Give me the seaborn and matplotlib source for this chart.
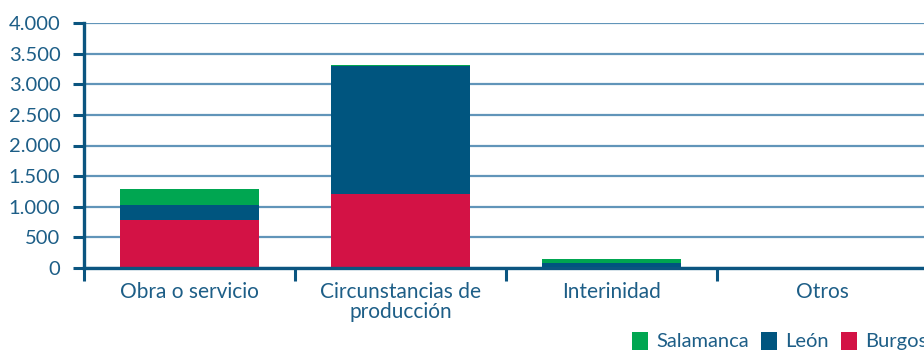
import matplotlib
matplotlib.use("Agg")
import matplotlib.pyplot as plt
from matplotlib.patches import Patch
from matplotlib.ticker import FuncFormatter, FixedLocator
import seaborn as sns
import pandas as pd
import numpy as np

# Contract types and counts per province
categories = ["Obra o servicio", "Circunstancias de\nproducción", "Interinidad", "Otros"]
burgos = [790, 1205, 10, 3]
leon = [240, 2085, 75, 5]
salamanca = [260, 30, 60, 4]

series_names = ["Salamanca", "León", "Burgos"]
colors = {"Salamanca": "#00A651", "León": "#00557F", "Burgos": "#D31245"}
axis_color = "#0B5580"
grid_color = "#6195B9"
text_color = "#1D5E87"

sns.set_theme(style="white")
plt.rcParams["font.family"] = ["Lato", "DejaVu Sans"]

df = pd.DataFrame({
    "categoria": categories,
    "Burgos": burgos,
    "León": leon,
    "Salamanca": salamanca,
})
# cumulative heights so each layer sits on the previous one
df["top_Burgos"] = df["Burgos"]
df["top_León"] = df["Burgos"] + df["León"]
df["top_Salamanca"] = df["Burgos"] + df["León"] + df["Salamanca"]

fig = plt.figure(figsize=(9.24, 3.52), dpi=100)
W, H = 924, 352
ax = fig.add_axes([84 / W, (H - 268) / H, 844 / W, 245 / H])

for name in series_names:
    sns.barplot(data=df, x="categoria", y=f"top_{name}", color=colors[name],
                width=0.66, saturation=1, ax=ax, zorder=3, linewidth=0)

ax.set_xlim(-0.5, 3.5)
ax.set_ylim(0, 4000)
ax.set_yticks(np.arange(0, 4001, 500))
ax.yaxis.set_major_formatter(FuncFormatter(lambda v, p: f"{int(v):,}".replace(",", ".")))
ax.set_xlabel("")
ax.set_ylabel("")

ax.grid(axis="y", color=grid_color, linewidth=1.6, zorder=0)
ax.set_axisbelow(True)
for s in ["top", "right"]:
    ax.spines[s].set_visible(False)
for s in ["left", "bottom"]:
    ax.spines[s].set_color(axis_color)
    ax.spines[s].set_linewidth(2.4)
    ax.spines[s].set_zorder(5)

ax.tick_params(axis="y", which="major", direction="out", length=8, width=2.2,
               color=axis_color, labelcolor=text_color, labelsize=14.5, pad=9, left=True)
ax.tick_params(axis="x", which="major", length=0, labelcolor=text_color,
               labelsize=15, pad=10)
ax.xaxis.set_minor_locator(FixedLocator([-0.5, 0.5, 1.5, 2.5, 3.5]))
ax.tick_params(axis="x", which="minor", direction="out", length=9, width=2.2,
               color=axis_color, bottom=True)
for lbl in ax.get_xticklabels():
    lbl.set_linespacing(1.0)

handles = [Patch(facecolor=colors[n], edgecolor="none", label=n) for n in series_names]
fig.legend(handles=handles, loc="center left", bbox_to_anchor=(632 / W, 11 / H),
           ncol=3, frameon=False, fontsize=14.5, labelcolor=text_color,
           handlelength=0.8, handleheight=1.0, handletextpad=0.4, columnspacing=0.6,
           borderaxespad=0, borderpad=0)

fig.savefig("out.png", dpi=100)
